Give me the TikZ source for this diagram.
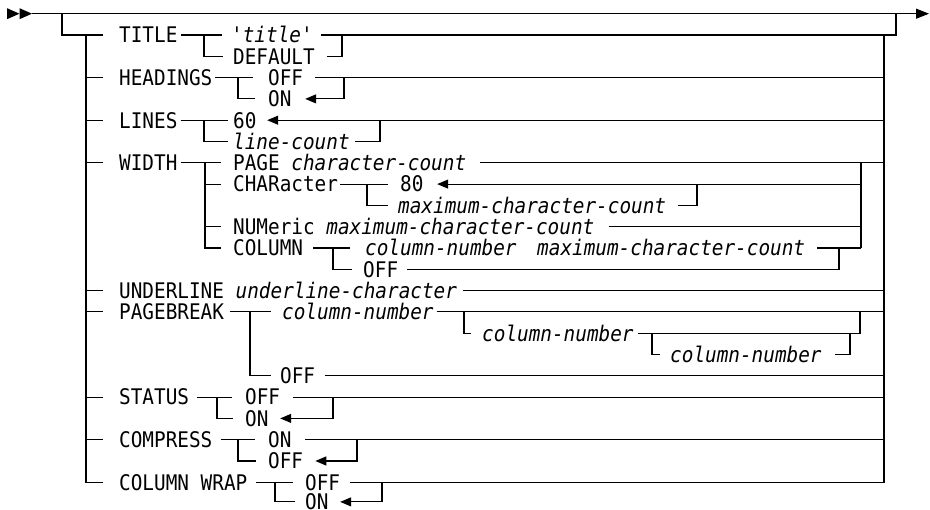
\documentclass[tikz,border=0pt]{standalone}
\usepackage{fontspec}
\newfontfamily\synfont[FakeStretch=0.9,Ligatures=TeXOff]{DejaVu Sans Mono}
\usetikzlibrary{arrows.meta}

\begin{document}
\begin{tikzpicture}[x=1pt, y=-21.3pt,
    rail/.style={line width=1.1pt},
    back/.style={rail, -{Triangle[length=11pt, width=9pt]}},
    kw/.style={anchor=west, inner sep=0pt, text height=15.7pt, text depth=0pt,
      font=\synfont\fontsize{21.5}{22}\selectfont}
  ]
    \useasboundingbox (0,-0.643) rectangle (930,23.3);

    % Entry, exit and the two trunks
    \coordinate (in) at (32,0);
    \coordinate (out) at (929,0);
    \coordinate (lt) at (86,1);
    \coordinate (rt) at (884,1);
    \fill (7,0) ++(0,5.5pt) -- ++(12.5pt,-5.5pt) -- ++(-12.5pt,-5.5pt) -- cycle;
    \fill (19.5,0) ++(0,5.5pt) -- ++(12.5pt,-5.5pt) -- ++(-12.5pt,-5.5pt) -- cycle;
    \draw[rail, -{Triangle[length=13pt, width=10pt]}] (in) -- (out);
    \draw[rail] (62,0) |- (103,1);
    \draw[rail] (lt) |- (103,22);
    \foreach \r in {3,5,7,13,14,18,20} \draw[rail] (86,\r) -- (103,\r);

    % TITLE
    \node[kw] (title) at (119,1) {TITLE};
    \node[kw] (titlev) at (231,1) {'\textit{title}'};
    \node[kw] (titled) at (233,2) {DEFAULT};
    \draw[rail] ([xshift=3pt]title.east) -- (222,1);
    \draw[rail] (204,1) |- (223,2);
    \draw[rail] ([xshift=8pt]titlev.east) -- (896,1) -- (896,0);
    \draw[rail] ([xshift=12pt]titled.east) -| (342,1);

    % HEADINGS
    \node[kw] (head) at (119,3) {HEADINGS};
    \node[kw] (headoff) at (268,3) {OFF};
    \node[kw] (headon) at (268,4) {ON};
    \draw[rail] ([xshift=2pt]head.east) -- (253,3);
    \draw[rail] (238,3) |- (255,4);
    \draw[rail] ([xshift=12pt]headoff.east) -- (884,3);
    \draw[back] (344,3) |- ([xshift=13.5pt]headon.east);

    % LINES
    \node[kw] (lines) at (119,5) {LINES};
    \node[kw] (lines60) at (233,5) {60};
    \node[kw] (linesn) at (233,6) {\textit{line-count}};
    \draw[rail] ([xshift=3pt]lines.east) -- (228,5);
    \draw[rail] (204,5) |- (228,6);
    \draw[back] (884,5) -- ([xshift=10.5pt]lines60.east);
    \draw[rail] ([xshift=5.5pt]linesn.east) -| (380,5);

    % WIDTH
    \node[kw] (width) at (119,7) {WIDTH};
    \node[kw] (wpage) at (233,7) {PAGE \textit{character-count}};
    \node[kw] (wchar) at (233,8) {CHARacter};
    \node[kw] (wchar80) at (400,8) {80};
    \node[kw] (wcharn) at (398,9) {\textit{maximum-character-count}};
    \node[kw] (wnum) at (233,10) {NUMeric \textit{maximum-character-count}};
    \node[kw] (wcol) at (233,11) {COLUMN};
    \node[kw] (wcoln) at (365,11) {\textit{column-number}};
    \node[kw] (wcolm) at (537,11) {\textit{maximum-character-count}};
    \node[kw] (wcoloff) at (363,12) {OFF};
    \draw[rail] ([xshift=3pt]width.east) -- (221,7);
    \draw[rail] (205,7) |- (221,11);
    \foreach \r in {8,10} \draw[rail] (205,\r) -- (221,\r);
    \draw[rail] ([xshift=14pt]wpage.east) -- (884,7);
    \draw[rail] (861,7) -- (861,11);
    \draw[rail] ([xshift=2pt]wchar.east) -- (388,8);
    \draw[rail] (367,8) |- (388,9);
    \draw[back] (861,8) -- ([xshift=13.5pt]wchar80.east);
    \draw[rail] ([xshift=12pt]wcharn.east) -| (697,8);
    \draw[rail] ([xshift=14pt]wnum.east) -- (861,10);
    \draw[rail] ([xshift=10pt]wcol.east) -- (350,11);
    \draw[rail] (333,11) |- (352,12);
    \draw[rail] ([xshift=12pt]wcolm.east) -- (861,11);
    \draw[rail] ([xshift=9pt]wcoloff.east) -| (839,11);

    % UNDERLINE
    \node[kw] (under) at (119,13) {UNDERLINE \textit{underline-character}};
    \draw[rail] ([xshift=6pt]under.east) -- (884,13);

    % PAGEBREAK
    \node[kw] (pbrk) at (119,14) {PAGEBREAK};
    \node[kw] (pbrk1) at (282,14) {\textit{column-number}};
    \node[kw] (pbrk2) at (482,15) {\textit{column-number}};
    \node[kw] (pbrk3) at (670,16) {\textit{column-number}};
    \node[kw] (pbrkoff) at (280,17) {OFF};
    \draw[rail] ([xshift=6pt]pbrk.east) -- (271,14);
    \draw[rail] (250,14) |- (271,17);
    \draw[rail] ([xshift=3pt]pbrk1.east) -- (884,14);
    \draw[rail] (464,14) |- (471,15);
    \draw[rail] ([xshift=4.5pt]pbrk2.east) -| (860,14);
    \draw[rail] (652,15) |- (660,16);
    \draw[rail] ([xshift=13.5pt]pbrk3.east) -| (850,15);
    \draw[rail] ([xshift=10pt]pbrkoff.east) -- (884,17);

    % STATUS
    \node[kw] (stat) at (119,18) {STATUS};
    \node[kw] (statoff) at (245,18) {OFF};
    \node[kw] (staton) at (245,19) {ON};
    \draw[rail] ([xshift=8pt]stat.east) -- (232,18);
    \draw[rail] (217,18) |- (233,19);
    \draw[rail] ([xshift=13pt]statoff.east) -- (884,18);
    \draw[back] (333,18) |- ([xshift=11.5pt]staton.east);

    % COMPRESS
    \node[kw] (comp) at (119,20) {COMPRESS};
    \node[kw] (compon) at (268,20) {ON};
    \node[kw] (compoff) at (268,21) {OFF};
    \draw[rail] ([xshift=8pt]comp.east) -- (255,20);
    \draw[rail] (238,20) |- (256,21);
    \draw[rail] ([xshift=13.5pt]compon.east) -- (884,20);
    \draw[back] (357,20) |- ([xshift=12pt]compoff.east);

    % COLUMN WRAP
    \node[kw] (cwrap) at (119,22) {COLUMN WRAP};
    \node[kw] (cwrapoff) at (305,22) {OFF};
    \node[kw] (cwrapon) at (305,22.92) {ON};
    \draw[rail] ([xshift=8pt]cwrap.east) -- (293,22);
    \draw[rail] (275,22) |- (295,22.92);
    \draw[rail] ([xshift=10pt]cwrapoff.east) -| (rt);
    \draw[back] (382,22) |- ([xshift=11.5pt]cwrapon.east);

  \end{tikzpicture}
\end{document}
